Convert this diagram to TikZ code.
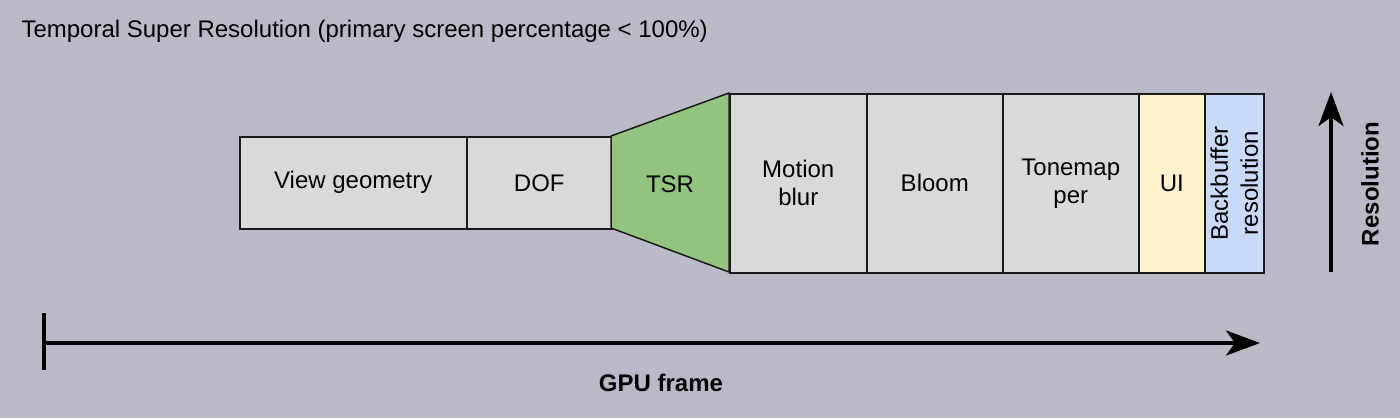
\documentclass[tikz,border=0pt]{standalone}
\usepackage{fontspec}
\setmainfont{Liberation Sans}
\usetikzlibrary{arrows.meta}
\definecolor{bgc}{HTML}{B9B9C7}
\definecolor{boxc}{HTML}{D9D9D9}
\definecolor{tsrc}{HTML}{93C47D}
\definecolor{uic}{HTML}{FFF2CC}
\definecolor{bbc}{HTML}{C9DAF8}
\definecolor{edgec}{HTML}{1A1A1A}
\begin{document}
\begin{tikzpicture}[x=1pt,y=-1pt,
  every node/.style={font=\fontsize{24}{28}\selectfont, text=black},
  passbox/.style={draw=edgec, line width=1.5pt, fill=boxc, anchor=north west, inner sep=0pt, minimum width=#1, align=center},
  tall/.style={minimum height=179pt},
  short/.style={minimum height=92pt},
  bigarrow/.style={line width=4pt, draw=black, -{Stealth[length=34pt,width=25pt,inset=9pt]}},
  bold/.style={font=\fontsize{24}{28}\selectfont\bfseries}
]
\fill[bgc] (0,0) rectangle (1400,418);
\useasboundingbox (0,0) rectangle (1400,418);

\node[anchor=west] (title) at (18,31) {Temporal Super Resolution (primary screen percentage < 100\%)};

\node[passbox=227pt, short] (vg) at (239,136) {View geometry};
\node[passbox=145pt, short] (dof) at (466,136) {DOF};
\draw[draw=edgec, line width=1.5pt, fill=tsrc, line join=round] (611,136) -- (729,93) -- (729,272) -- (611,228) -- cycle;
\node (tsr) at (670,184) {TSR};
\node[passbox=137pt, tall] (mb) at (729,93) {Motion\\blur};
\node[passbox=136pt, tall] (bloom) at (866,93) {Bloom};
\node[passbox=136pt, tall] (tone) at (1002,93) {Tonemap\\per};
\node[passbox=66pt, tall, fill=uic] (ui) at (1138,93) {UI};
\node[passbox=59pt, tall, fill=bbc] (bb) at (1204,93) {};
\node[rotate=90, align=center, font=\fontsize{24}{30}\selectfont] (bbt) at (bb.center) {Backbuffer\\resolution};

\coordinate (gs) at (44,343);
\coordinate (ge) at (1260,343);
\coordinate (bt) at (44,313);
\coordinate (bbm) at (44,370);
\draw[line width=4pt] (bt) -- (bbm);
\draw[bigarrow] (gs) -- (ge);
\node[bold] (gpu) at (661,383) {GPU frame};

\coordinate (rs) at (1331,272);
\coordinate (re) at (1331,92);
\draw[bigarrow] (rs) -- (re);
\node[bold, rotate=90] (res) at (1370,184) {Resolution};
\end{tikzpicture}
\end{document}
